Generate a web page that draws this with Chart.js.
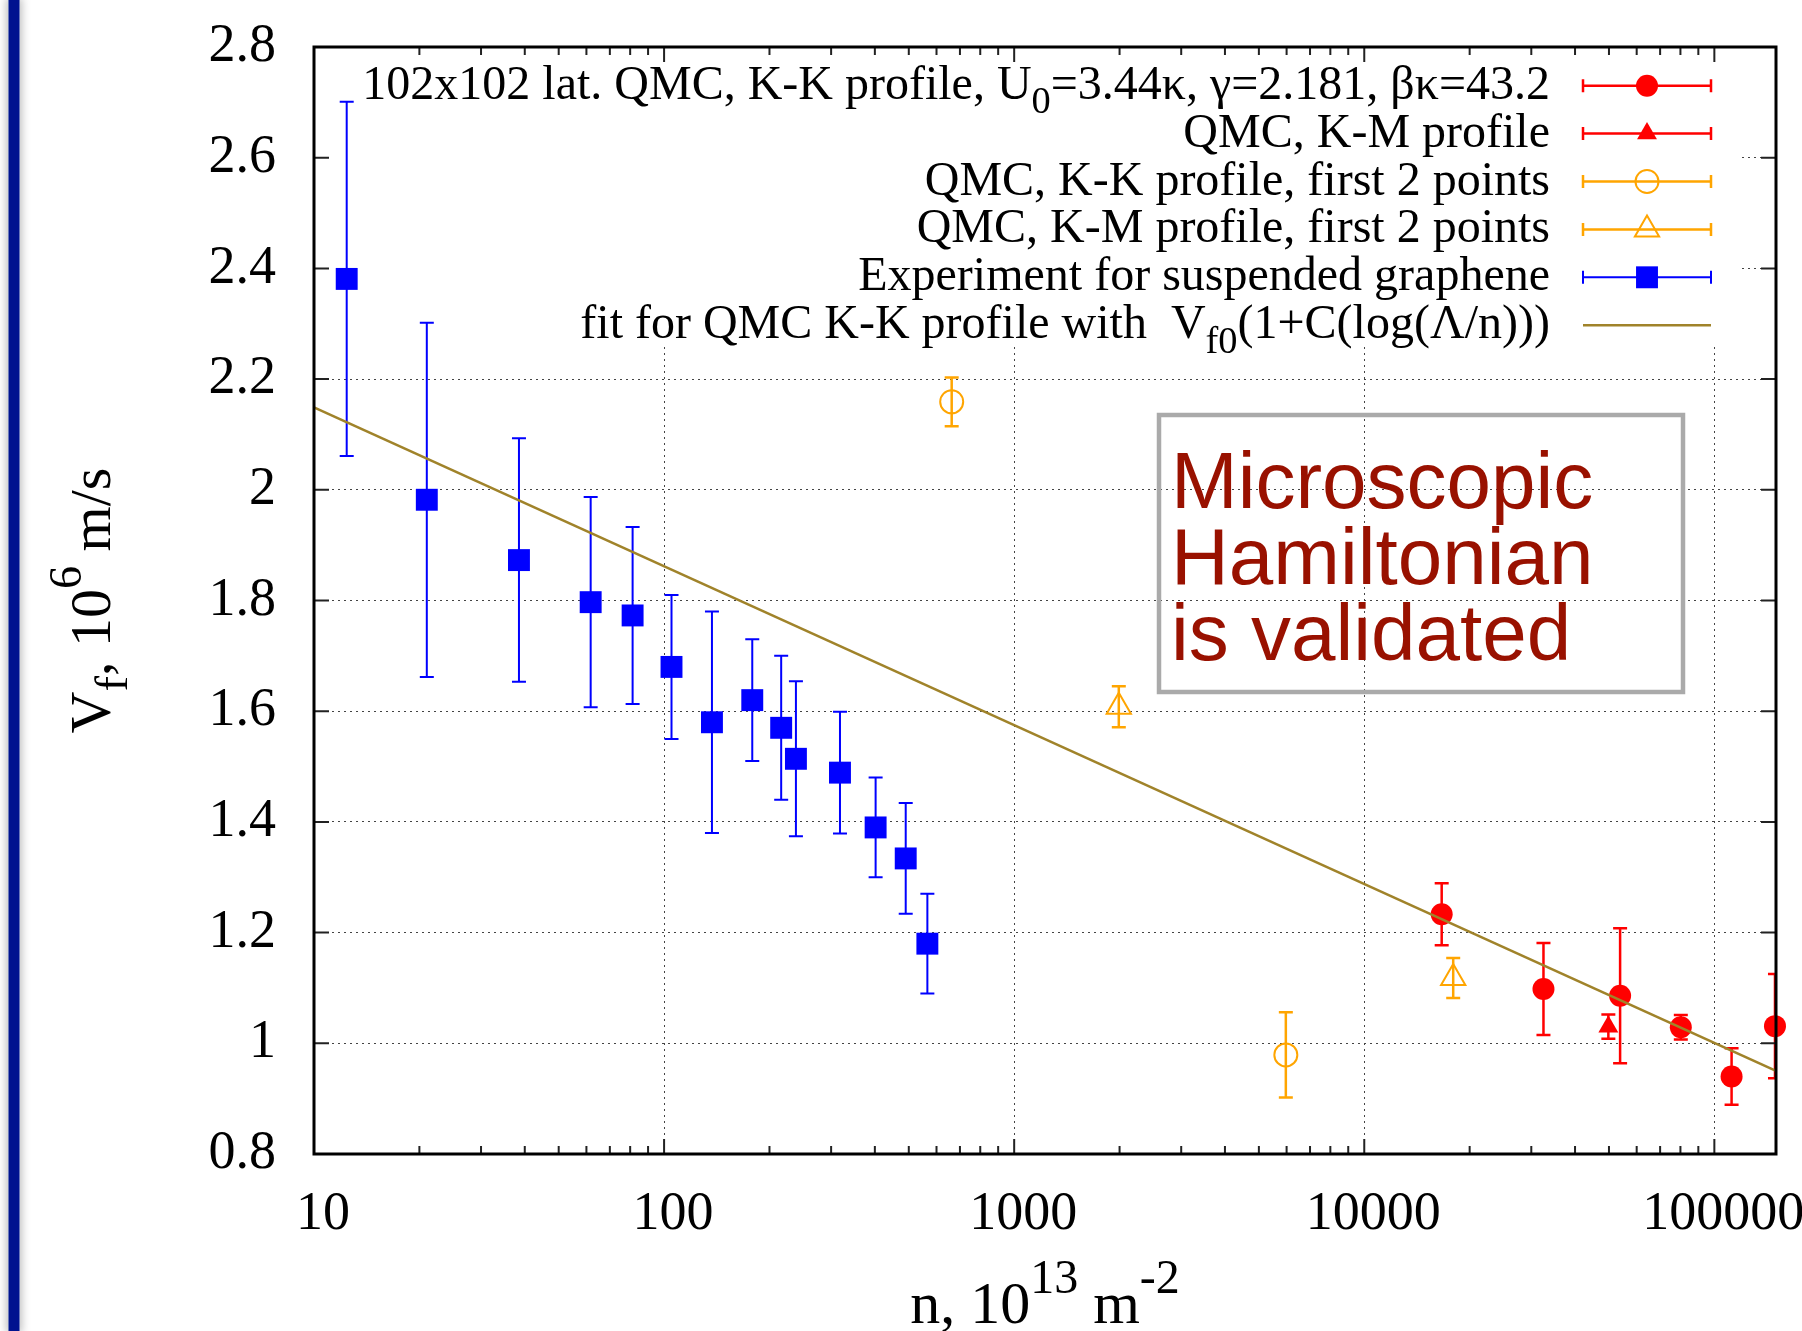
<!DOCTYPE html>
<html>
<head>
<meta charset="utf-8">
<title>Fermi velocity vs carrier density</title>
<script src="https://cdn.jsdelivr.net/npm/chart.js@4.4.1/dist/chart.umd.min.js"></script>
<style>
  html, body { margin:0; padding:0; background:#fff; }
  #wrap { position:relative; width:1802px; height:1331px; overflow:hidden; background:#fff; }
  #plot { position:absolute; left:0; top:0; }
  #stripe { position:absolute; left:8px; top:0; width:12px; height:100%; box-sizing:border-box;
            background:#00138f; border-left:1px solid #6a78bb; border-right:1px solid #6a78bb;
            box-shadow:0 0 9px 2px rgba(0,0,0,0.25); }
</style>
</head>
<body>
<div id="wrap">
  <canvas id="plot" width="1802" height="1331"></canvas>
  <div id="stripe"></div>
</div>
<script>
/* ---------- data ---------- */
const xTickVals   = [10, 100, 1000, 10000, 100000];
const xTickLabels = ['10', '100', '1000', '10000', '100000'];
const yTickVals   = [0.8, 1.0, 1.2, 1.4, 1.6, 1.8, 2.0, 2.2, 2.4, 2.6, 2.8];
const yTickLabels = ['0.8', '1', '1.2', '1.4', '1.6', '1.8', '2', '2.2', '2.4', '2.6', '2.8'];

// 102x102 lattice QMC, K-K profile
const kkN   = [16640, 32500, 53800, 80200, 112000, 149000];
const kkV   = [1.233, 1.098, 1.086, 1.029, 0.940, 1.031];
const kkErr = [0.056, 0.083, 0.122, 0.022, 0.051, 0.094];

// QMC, K-M profile
const kmN   = [49800];
const kmV   = [1.030];
const kmErr = [0.022];

// QMC, K-K profile, first 2 points
const kk2N   = [663, 5970];
const kk2V   = [2.159, 0.979];
const kk2Err = [0.044, 0.077];

// QMC, K-M profile, first 2 points
const km2N   = [1990, 17950];
const km2V   = [1.608, 1.118];
const km2Err = [0.037, 0.036];

// Experiment for suspended graphene
const expN   = [12.4, 21.0, 38.5, 61.7, 81.3, 105, 137, 178.6, 216, 238, 318, 402, 490, 565];
const expV   = [2.381, 1.982, 1.873, 1.797, 1.773, 1.680, 1.580, 1.620, 1.570, 1.514, 1.489, 1.390, 1.334, 1.180];
const expErr = [0.32, 0.32, 0.22, 0.19, 0.16, 0.13, 0.20, 0.11, 0.13, 0.14, 0.11, 0.09, 0.10, 0.09];

// fit line end points
const fitN = [10, 150000];
const fitV = [2.149, 0.950];

const legendLabels = [
  '102x102 lat. QMC, K-K profile, U_{0}=3.44\u03ba, \u03b3=2.181, \u03b2\u03ba=43.2',
  'QMC, K-M profile',
  'QMC, K-K profile, first 2 points',
  'QMC, K-M profile, first 2 points',
  'Experiment for suspended graphene',
  'fit for QMC K-K profile with  V_{f0}(1+C(log(\u039b/n)))'
];
const xTitle = 'n, 10^{13} m^{-2}';
const yTitle = 'V_{f}, 10^{6} m/s';
const noteLines = ['Microscopic', 'Hamiltonian', 'is validated'];

/* ---------- helpers ---------- */
const SERIF = '"Liberation Serif", "Times New Roman", serif';
const RED = '#ff0000', ORANGE = '#ffa500', BLUE = '#0000ff', OLIVE = '#a0832a';

const pts = (xs, ys) => xs.map((v, i) => ({ x: v, y: ys[i] }));

function parseRich(s){
  const out = [], re = /([_^])\{([^}]*)\}/g;
  let last = 0, m;
  while ((m = re.exec(s))){
    if (m.index > last) out.push({ t: s.slice(last, m.index), k: '' });
    out.push({ t: m[2], k: m[1] });
    last = re.lastIndex;
  }
  if (last < s.length) out.push({ t: s.slice(last), k: '' });
  return out;
}
function drawRich(ctx, s, x, y, size, align){
  const segs = parseRich(s);
  const fs = g => g.k ? size*0.8 : size;
  const dy = g => g.k === '_' ? size*0.3 : (g.k === '^' ? -size*0.5 : 0);
  let w = 0;
  segs.forEach(g => { ctx.font = fs(g) + 'px ' + SERIF; g.w = ctx.measureText(g.t).width; w += g.w; });
  let cx = align === 'right' ? x - w : (align === 'center' ? x - w/2 : x);
  ctx.textAlign = 'left'; ctx.textBaseline = 'alphabetic';
  segs.forEach(g => { ctx.font = fs(g) + 'px ' + SERIF; ctx.fillText(g.t, cx, y + dy(g)); cx += g.w; });
}
function marker(ctx, style, x, y, r, color, filled, lw){
  ctx.beginPath();
  if (style === 'circle') ctx.arc(x, y, r, 0, Math.PI*2);
  else if (style === 'rect'){ const s = r*Math.SQRT1_2; ctx.rect(x-s, y-s, 2*s, 2*s); }
  else if (style === 'triangle'){
    for (let k = 0; k < 3; k++){
      const a = k*2*Math.PI/3;
      const px = x + Math.sin(a)*r, py = y - Math.cos(a)*r;
      k ? ctx.lineTo(px, py) : ctx.moveTo(px, py);
    }
    ctx.closePath();
  }
  if (filled){ ctx.fillStyle = color; ctx.fill(); }
  else { ctx.strokeStyle = color; ctx.lineWidth = lw; ctx.stroke(); }
}
function noPad(s){ s.paddingLeft = 0; s.paddingRight = 0; s.paddingTop = 0; s.paddingBottom = 0; }

/* ---------- gnuplot-like decorations ---------- */
const gnuplotLook = {
  id: 'gnuplotLook',
  beforeDatasetsDraw(chart){
    const { ctx, chartArea: a, scales: { x, y } } = chart;
    ctx.save();
    // opaque key box
    ctx.fillStyle = '#fff';
    ctx.fillRect(a.left + 3, a.top + 6, 1421, 293);
    // error bars
    ctx.beginPath(); ctx.rect(a.left, a.top, a.right - a.left, a.bottom - a.top); ctx.clip();
    chart.data.datasets.forEach(ds => {
      if (!ds.err) return;
      ctx.strokeStyle = ds.borderColor;
      ctx.lineWidth = ds.errWidth;
      ds.data.forEach((p, j) => {
        const px = x.getPixelForValue(p.x);
        const y1 = y.getPixelForValue(p.y + ds.err[j]);
        const y2 = y.getPixelForValue(p.y - ds.err[j]);
        ctx.beginPath();
        ctx.moveTo(px, y1); ctx.lineTo(px, y2);
        ctx.moveTo(px - 7, y1); ctx.lineTo(px + 7, y1);
        ctx.moveTo(px - 7, y2); ctx.lineTo(px + 7, y2);
        ctx.stroke();
      });
    });
    ctx.restore();
  },
  afterDatasetsDraw(chart){
    const { ctx, chartArea: a, scales: { x, y } } = chart;
    ctx.save();

    // key
    const textRight = a.right - 226, l0 = a.right - 193, l1 = a.right - 65, mx = a.right - 129;
    chart.data.datasets.forEach((ds, i) => {
      const cy = a.top + 38.7 + i*47.9;
      ctx.fillStyle = '#000';
      drawRich(ctx, legendLabels[i], textRight, cy + 13, 48, 'right');
      ctx.strokeStyle = ds.borderColor;
      ctx.lineWidth = ds.err ? ds.errWidth : ds.borderWidth;
      ctx.beginPath();
      ctx.moveTo(l0, cy); ctx.lineTo(l1, cy);
      if (ds.err){
        ctx.moveTo(l0, cy - 6.5); ctx.lineTo(l0, cy + 6.5);
        ctx.moveTo(l1, cy - 6.5); ctx.lineTo(l1, cy + 6.5);
      }
      ctx.stroke();
      if (ds.err) marker(ctx, ds.pointStyle, mx, cy, ds.pointRadius, ds.borderColor, ds.filled, ds.pointBorderWidth);
    });

    // inward tics on all four sides
    ctx.strokeStyle = '#222'; ctx.lineWidth = 2;
    ctx.beginPath();
    xTickVals.forEach(v => {
      for (let m = 1; m <= 9; m++){
        const val = v*m;
        if (val > x.max) break;
        const px = x.getPixelForValue(val), len = m === 1 ? 15 : 8;
        ctx.moveTo(px, a.bottom); ctx.lineTo(px, a.bottom - len);
        ctx.moveTo(px, a.top); ctx.lineTo(px, a.top + len);
      }
    });
    yTickVals.forEach(v => {
      const py = y.getPixelForValue(v);
      ctx.moveTo(a.left, py); ctx.lineTo(a.left + 15, py);
      ctx.moveTo(a.right, py); ctx.lineTo(a.right - 15, py);
    });
    ctx.stroke();

    // frame
    ctx.strokeStyle = '#000'; ctx.lineWidth = 3;
    ctx.strokeRect(a.left, a.top, a.right - a.left, a.bottom - a.top);

    // annotation box
    ctx.strokeStyle = '#aaaaaa'; ctx.lineWidth = 4.5;
    ctx.strokeRect(a.left + 845, a.top + 368, 524, 277);
    ctx.fillStyle = '#991100';
    ctx.font = '80px "Liberation Sans", Arial, sans-serif';
    ctx.textAlign = 'left'; ctx.textBaseline = 'alphabetic';
    noteLines.forEach((t, i) => ctx.fillText(t, a.left + 857, a.top + 461 + i*76));

    // axis titles
    ctx.fillStyle = '#000';
    drawRich(ctx, xTitle, (a.left + a.right)/2, 1323, 60, 'center');
    ctx.translate(110, (a.top + a.bottom)/2);
    ctx.rotate(-Math.PI/2);
    drawRich(ctx, yTitle, 0, 0, 58, 'center');
    ctx.restore();
  }
};

/* ---------- chart ---------- */
const errSet = (label, xs, ys, es, color, style, r, filled, order) => ({
  label, data: pts(xs, ys), err: es, errWidth: 2.5, filled,
  borderColor: color, backgroundColor: filled ? color : 'rgba(0,0,0,0)',
  pointStyle: style, pointRadius: r, pointHoverRadius: r,
  pointBorderWidth: filled ? 0 : 2, showLine: false, order, clip: false
});

const datasets = [
  errSet(legendLabels[0], kkN, kkV, kkErr, RED, 'circle', 11, true, 2),
  errSet(legendLabels[1], kmN, kmV, kmErr, RED, 'triangle', 11.5, true, 3),
  errSet(legendLabels[2], kk2N, kk2V, kk2Err, ORANGE, 'circle', 11.5, false, 4),
  errSet(legendLabels[3], km2N, km2V, km2Err, ORANGE, 'triangle', 14, false, 5),
  errSet(legendLabels[4], expN, expV, expErr, BLUE, 'rect', 15.5, true, 6),
  { label: legendLabels[5], data: pts(fitN, fitV), showLine: true, borderColor: OLIVE,
    borderWidth: 2.5, pointRadius: 0, order: 0 }
];
datasets[4].errWidth = 2;

new Chart(document.getElementById('plot'), {
  type: 'scatter',
  data: { datasets },
  options: {
    responsive: false,
    animation: false,
    layout: { padding: { left: 0, top: 47, right: 26, bottom: 0 } },
    plugins: { legend: { display: false }, tooltip: { enabled: false } },
    scales: {
      x: {
        type: 'logarithmic', min: 10, max: 150000,
        afterBuildTicks: s => { s.ticks = xTickVals.map(v => ({ value: v })); },
        afterFit: s => { s.height = 177; noPad(s); },
        ticks: { color: '#000', font: { family: SERIF, size: 54 }, padding: 28, labelOffset: 9,
                 maxRotation: 0, autoSkip: false, callback: (v, i) => xTickLabels[i] },
        grid: { color: '#444', lineWidth: 1, drawTicks: false },
        border: { display: false, dash: [2, 4] }
      },
      y: {
        min: 0.8, max: 2.8,
        afterBuildTicks: s => { s.ticks = yTickVals.map(v => ({ value: v })); },
        afterFit: s => { s.width = 314; noPad(s); },
        ticks: { color: '#000', font: { family: SERIF, size: 54 }, padding: 38,
                 autoSkip: false, callback: (v, i) => yTickLabels[i] },
        grid: { color: '#444', lineWidth: 1, drawTicks: false },
        border: { display: false, dash: [2, 4] }
      }
    }
  },
  plugins: [gnuplotLook]
});
</script>
</body>
</html>
